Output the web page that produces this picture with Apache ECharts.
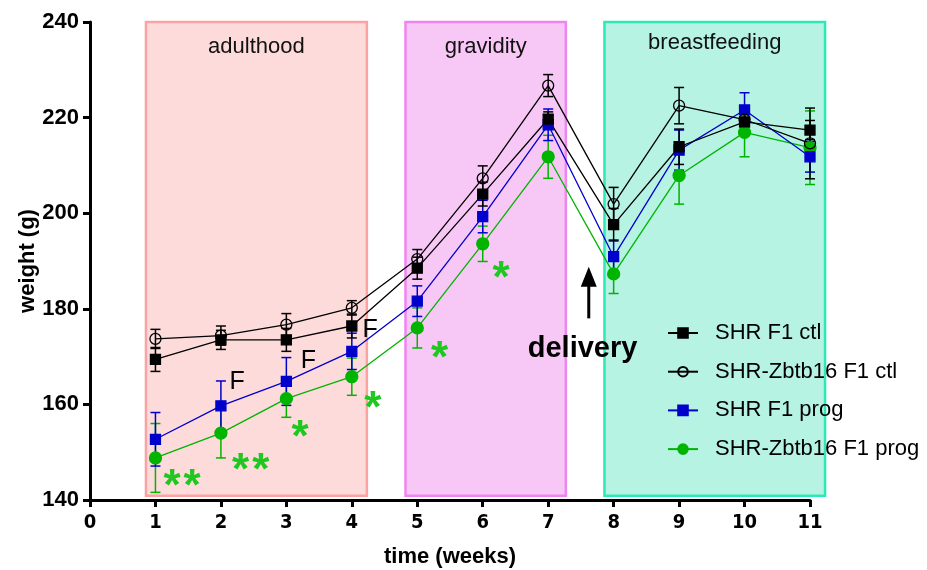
<!DOCTYPE html>
<html><head><meta charset="utf-8">
<script src="https://cdn.jsdelivr.net/npm/echarts@6/dist/echarts.min.js"></script>
<style>html,body{margin:0;padding:0;background:#fff}#c{width:927px;height:570px}</style>
</head><body><div id="c"></div>
<script>
// ---- data ----
const weeks = [1,2,3,4,5,6,7,8,9,10,11];
const xTicks = [0,1,2,3,4,5,6,7,8,9,10,11];
const yTicks = [140,160,180,200,220,240];
const seriesNames = ['SHR F1 ctl','SHR-Zbtb16 F1 ctl','SHR F1 prog','SHR-Zbtb16 F1 prog'];
const shrCtl     = [169.4,173.5,173.5,176.4,188.5,204.0,219.7,197.6,213.9,219.1,217.4];
const shrCtlErr  = [2.5,2.0,2.4,2.5,2.3,2.5,1.5,3.4,3.7,2.0,2.0];
const zbCtl      = [173.7,174.4,176.7,180.2,190.4,207.3,226.7,201.9,222.5,219.6,214.6];
const zbCtlErr   = [2.0,2.0,2.3,1.5,2.0,2.6,2.3,3.5,3.8,2.5,7.4];
const shrProg    = [152.7,159.7,164.8,171.1,181.6,199.3,218.5,190.9,213.2,221.6,211.8];
const shrProgErr = [5.6,5.2,5.0,3.8,3.2,3.4,3.3,3.5,4.2,3.6,3.2];
const zbProg     = [148.8,154.0,161.2,165.8,176.0,193.6,211.8,187.3,207.9,216.9,213.7];
const zbProgErr  = [7.2,5.2,3.9,3.9,4.2,3.7,4.5,4.1,6.0,5.1,7.7];
// phases: [name, start week, end week, bottom, top]
const phases = [['adulthood',0.855,4.23,140.9,240],['gravidity',4.82,7.27,140.9,240],['breastfeeding',7.86,11.23,140.9,240]];
// annotations in data coordinates (visual centres)
const fMarks = [[2.246,164.9],[3.335,169.35],[4.278,175.8]];
const starMarks = [[1.253,144.6],[1.558,144.6],[2.30,148.0],[2.61,148.0],[3.21,154.9],[4.32,160.9],[5.34,171.4],[6.28,188.1]];
const deliveryLabel = ['delivery',7.525,171.6];
const deliveryArrow = [7.62,178.0,188.8];

// ---- styles ----
const FONT = 'Arial, "Liberation Sans", sans-serif';
const NARROW = '"DejaVu Sans Condensed", "Liberation Sans Narrow", Arial, sans-serif';
const phaseStyles = [
  {color:'#fddbdb', borderColor:'#f9a3a3', labelDist:14},
  {color:'#f7c7f5', borderColor:'#ef86ef', labelDist:14},
  {color:'#b6f3e3', borderColor:'#2ee8b9', labelDist:10}
];
const lineDefs = [
  {name:seriesNames[3], vals:zbProg,  errs:zbProgErr,  color:'#00b400', symbol:'circle', size:12, fill:'#00b400'},
  {name:seriesNames[2], vals:shrProg, errs:shrProgErr, color:'#0000cc', symbol:'rect', size:10, fill:'#0000cc'},
  {name:seriesNames[1], vals:zbCtl,   errs:zbCtlErr,   color:'#000000', symbol:'circle', size:11, fill:'rgba(255,255,255,0)'},
  {name:seriesNames[0], vals:shrCtl,  errs:shrCtlErr,  color:'#000000', symbol:'rect', size:10, fill:'#000000'}
];

function errSeries(d){
  return {
    type:'custom', name:d.name+' err', silent:true, z:3,
    data: weeks.map((w,i)=>[w, d.vals[i]-d.errs[i], d.vals[i]+d.errs[i]]),
    encode:{x:0, y:[1,2]},
    renderItem(params, api){
      const x = api.value(0);
      const lo = api.coord([x, api.value(1)]);
      const hi = api.coord([x, api.value(2)]);
      const cw = 5, st = {stroke:d.color, lineWidth:1.5};
      return {type:'group', children:[
        {type:'line', shape:{x1:lo[0],y1:lo[1],x2:hi[0],y2:hi[1]}, style:st},
        {type:'line', shape:{x1:lo[0]-cw,y1:lo[1],x2:lo[0]+cw,y2:lo[1]}, style:st},
        {type:'line', shape:{x1:hi[0]-cw,y1:hi[1],x2:hi[0]+cw,y2:hi[1]}, style:st}
      ]};
    }
  };
}

const series = [];
// phase boxes
series.push({
  type:'custom', name:'phases', silent:true, z:0, clip:false,
  data: phases.map(p=>[p[1],p[2],p[3],p[4]]),
  encode:{x:[0,1], y:[2,3]},
  renderItem(params, api){
    const ps = phaseStyles[params.dataIndex];
    const a = api.coord([api.value(0), api.value(3)]);
    const b = api.coord([api.value(1), api.value(2)]);
    return {type:'group', children:[
      {type:'rect', shape:{x:a[0], y:a[1], width:b[0]-a[0], height:b[1]-a[1]},
       style:{fill:ps.color, stroke:ps.borderColor, lineWidth:2.5}},
      {type:'text', x:(a[0]+b[0])/2, y:a[1]+ps.labelDist,
       style:{text:phases[params.dataIndex][0], font:'22px '+FONT, fill:'#111', align:'center', verticalAlign:'top'}}
    ]};
  }
});
lineDefs.forEach(d=>{
  series.push(errSeries(d));
  series.push({
    type:'line', name:d.name, z:4,
    data: weeks.map((w,i)=>[w, d.vals[i]]),
    symbol:d.symbol, symbolSize:d.size, showAllSymbol:true,
    lineStyle:{color:d.color, width:1.3},
    itemStyle:{color:d.fill, borderColor:d.color, borderWidth:1.3},
    emphasis:{disabled:true}
  });
});
// text annotations
function textSeries(items, font, color, dy){
  return {
    type:'custom', silent:true, z:6,
    data: items.map(t=>[t[1], t[2]]),
    encode:{x:0,y:1},
    renderItem(params, api){
      const p = api.coord([api.value(0), api.value(1)]);
      return {type:'text', x:p[0], y:p[1]+dy, style:{text:items[params.dataIndex][0], font:font, fill:color, align:'center', verticalAlign:'middle'}};
    }
  };
}
series.push(textSeries(fMarks.map(f=>['F',f[0],f[1]]), '25px '+FONT, '#000', 1));
series.push(textSeries(starMarks.map(s=>['*',s[0],s[1]]), 'bold 44px '+FONT, '#1ec81e', 10));
series.push(textSeries([deliveryLabel], 'bold 29px '+FONT, '#000', 0));
series.push({
  type:'custom', silent:true, z:6,
  data:[deliveryArrow], encode:{x:0,y:[1,2]},
  renderItem(params, api){
    const b = api.coord([api.value(0), api.value(1)]);
    const t = api.coord([api.value(0), api.value(2)]);
    const hw = 8, hh = 20;
    return {type:'group', children:[
      {type:'line', shape:{x1:b[0],y1:b[1],x2:t[0],y2:t[1]+hh-2}, style:{stroke:'#000', lineWidth:3}},
      {type:'polygon', shape:{points:[[t[0],t[1]],[t[0]-hw,t[1]+hh],[t[0]+hw,t[1]+hh]]}, style:{fill:'#000'}}
    ]};
  }
});

const chart = echarts.init(document.getElementById('c'));
chart.setOption({
  animation:false,
  backgroundColor:'#fff',
  grid:{left:90, right:117, top:22, bottom:70, outerBoundsMode:'none', containLabel:false},
  legend:{
    data: seriesNames, orient:'vertical', left:667, top:322, padding:0,
    itemWidth:30, itemHeight:12, itemGap:16.7,
    textStyle:{fontSize:22, lineHeight:22, fontFamily:FONT, color:'#000', padding:[0,0,0,12]},
    selectedMode:false
  },
  xAxis:{
    type:'value', min:xTicks[0], max:xTicks[xTicks.length-1], interval:1,
    name:'time (weeks)', nameLocation:'middle', nameGap:46, nameMoveOverlap:false,
    nameTextStyle:{fontSize:22, fontWeight:'bold', fontFamily:FONT, color:'#000'},
    axisLine:{lineStyle:{color:'#000', width:3}},
    axisTick:{length:7, lineStyle:{color:'#000', width:3}},
    axisLabel:{fontSize:20, fontWeight:'bold', fontFamily:NARROW, color:'#000', margin:13},
    splitLine:{show:false}
  },
  yAxis:{
    type:'value', min:yTicks[0], max:yTicks[yTicks.length-1], interval:20,
    name:'weight (g)', nameLocation:'middle', nameGap:51, nameMoveOverlap:false,
    nameTextStyle:{fontSize:22, fontWeight:'bold', fontFamily:FONT, color:'#000'},
    axisLine:{show:true, lineStyle:{color:'#000', width:3}},
    axisTick:{show:true, length:7, lineStyle:{color:'#000', width:3}},
    axisLabel:{fontSize:22, fontWeight:'bold', fontFamily:FONT, color:'#000', margin:11},
    splitLine:{show:false}
  },
  series: series
});
</script></body></html>
